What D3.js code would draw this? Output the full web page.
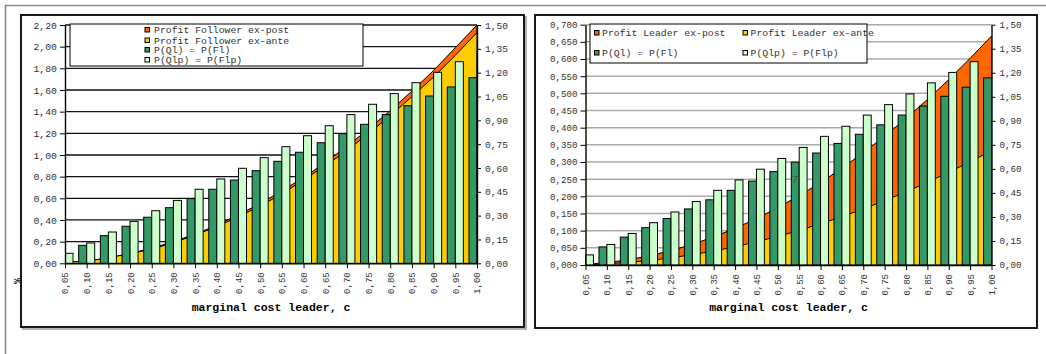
<!DOCTYPE html>
<html>
<head>
<meta charset="utf-8">
<script src="https://cdn.jsdelivr.net/npm/d3@7"></script>
<style>
  html, body { margin: 0; padding: 0; background: #fff; }
  svg { display: block; }
  text { font-family: "Liberation Mono", "Courier New", monospace; }
</style>
</head>
<body>
<svg id="chart" width="1046" height="354"></svg>
<script>
// marginal cost of the leader, c
const categories = ["0,05","0,10","0,15","0,20","0,25","0,30","0,35","0,40","0,45","0,50",
                    "0,55","0,60","0,65","0,70","0,75","0,80","0,85","0,90","0,95","1,00"];

// follower profits (left chart, left axis)
const followerExPost = [0.01,0.02,0.05,0.09,0.14,0.20,0.27,0.35,0.45,0.55,
                        0.67,0.79,0.93,1.08,1.24,1.41,1.59,1.78,1.99,2.20];
const followerExAnte = [0.01,0.02,0.05,0.09,0.13,0.19,0.26,0.34,0.43,0.53,
                        0.64,0.77,0.90,1.04,1.20,1.36,1.54,1.72,1.92,2.13];

// leader profits (right chart, left axis)
const leaderExPost = [0.002,0.007,0.015,0.027,0.042,0.060,0.082,0.107,0.135,0.167,
                      0.202,0.240,0.282,0.327,0.375,0.427,0.482,0.540,0.602,0.667];
const leaderExAnte = [0.001,0.003,0.008,0.013,0.021,0.030,0.041,0.053,0.068,0.083,
                      0.101,0.120,0.141,0.163,0.188,0.213,0.241,0.270,0.301,0.333];

// prices (both charts, right axis)
const priceQl  = [0.058,0.113,0.174,0.233,0.290,0.350,0.407,0.466,0.524,0.583,
                  0.642,0.699,0.759,0.816,0.875,0.936,0.992,1.053,1.110,1.168];
const priceQlp = [0.063,0.128,0.197,0.264,0.331,0.396,0.466,0.531,0.598,0.665,
                  0.734,0.803,0.866,0.936,1.001,1.068,1.137,1.202,1.269,1.335];

// axis ticks
const followerTicks = [0,0.2,0.4,0.6,0.8,1.0,1.2,1.4,1.6,1.8,2.0,2.2];
const leaderTicks   = [0,0.05,0.1,0.15,0.2,0.25,0.3,0.35,0.4,0.45,0.5,0.55,0.6,0.65,0.7];
const priceTicks    = [0,0.15,0.3,0.45,0.6,0.75,0.9,1.05,1.2,1.35,1.5];

const axisTitle = "marginal cost leader, c";
const followerLegend = ["Profit Follower ex-post","Profit Follower ex-ante","P(Ql) = P(Fl)","P(Qlp) = P(Flp)"];
const leaderLegend   = ["Profit Leader ex-post","Profit Leader ex-ante","P(Ql) = P(Fl)","P(Qlp) = P(Flp)"];

const COLORS = { post: "#ff6600", ante: "#ffcc00", ql: "#339966", qlp: "#ccffcc" };

const locale = d3.formatLocale({ decimal: ",", thousands: ".", grouping: [3], currency: ["", "€"] });
const fmt2 = locale.format(".2f");
const fmt3 = locale.format(".3f");

const svg = d3.select("#chart");

// page border
svg.append("path")
  .attr("d", "M5.5,354V5.5H1046")
  .attr("fill", "none").attr("stroke", "#8a8a8a").attr("stroke-width", 1.6);

function styleAxis(sel, fontSize) {
  sel.select(".domain").attr("stroke", "#000").attr("stroke-width", 1.4);
  sel.selectAll(".tick line").attr("stroke", "#000").attr("stroke-width", 1);
  sel.selectAll(".tick text")
    .attr("fill", "#333")
    .style("font-size", fontSize + "px")
    .style("font-family", '"Liberation Mono","Courier New",monospace');
}

function drawChart(c) {
  const g = svg.append("g");
  const [fx0, fy0, fx1, fy1] = c.frame;

  if (c.shadow) {
    g.append("rect")
      .attr("x", fx0 + 2).attr("y", fy0 + 2)
      .attr("width", fx1 - fx0).attr("height", fy1 - fy0)
      .attr("fill", "none").attr("stroke", "#9a9a9a").attr("stroke-width", 1.5);
  }
  g.append("rect")
    .attr("x", fx0).attr("y", fy0)
    .attr("width", fx1 - fx0).attr("height", fy1 - fy0)
    .attr("fill", "#fff").attr("stroke", "#000").attr("stroke-width", 1.8);

  const p = c.plot;
  const x = d3.scalePoint().domain(categories).range([p.l, p.r]);
  const yL = d3.scaleLinear().domain([0, c.leftMax]).range([p.b, p.t]);
  const yR = d3.scaleLinear().domain([0, 1.5]).range([p.b, p.t]);

  // horizontal gridlines
  g.append("g").selectAll("line").data(c.leftTicks).join("line")
    .attr("x1", p.l).attr("x2", p.r)
    .attr("y1", d => yL(d)).attr("y2", d => yL(d))
    .attr("stroke", c.gridColor).attr("stroke-width", c.gridWidth);

  const clipId = c.id + "-clip";
  g.append("clipPath").attr("id", clipId).append("rect")
    .attr("x", p.l).attr("y", p.t - 1)
    .attr("width", p.r - p.l).attr("height", p.b - p.t + 1);
  const body = g.append("g").attr("clip-path", `url(#${clipId})`);

  // profit areas, ex-post behind ex-ante
  const area = d3.area()
    .x((d, i) => x(categories[i]))
    .y0(yL(0))
    .y1(d => yL(d));
  c.areas.forEach(a => {
    body.append("path").datum(a.values)
      .attr("d", area)
      .attr("fill", a.color)
      .attr("stroke", "#000").attr("stroke-width", 1)
      .attr("stroke-linejoin", "round");
  });

  // price columns, clustered on each tick
  const w = x.step() * 0.37;
  body.append("g").selectAll("rect").data(priceQl).join("rect")
    .attr("x", (d, i) => x(categories[i]) - w)
    .attr("y", d => yR(d))
    .attr("width", w).attr("height", d => yR(0) - yR(d))
    .attr("fill", COLORS.ql).attr("stroke", "#000").attr("stroke-width", 1);
  body.append("g").selectAll("rect").data(priceQlp).join("rect")
    .attr("x", (d, i) => x(categories[i]))
    .attr("y", d => yR(d))
    .attr("width", w).attr("height", d => yR(0) - yR(d))
    .attr("fill", COLORS.qlp).attr("stroke", "#000").attr("stroke-width", 1);

  // axes
  g.append("g").attr("transform", `translate(${p.l},0)`)
    .call(d3.axisLeft(yL).tickValues(c.leftTicks).tickFormat(c.leftFmt)
      .tickSize(5).tickSizeOuter(0).tickPadding(c.leftPad))
    .call(styleAxis, c.leftFont);

  g.append("g").attr("transform", `translate(${p.r},0)`)
    .call(d3.axisRight(yR).tickValues(priceTicks).tickFormat(fmt2)
      .tickSize(4).tickSizeOuter(0).tickPadding(c.rightPad))
    .call(styleAxis, c.rightFont);

  const xa = g.append("g").attr("transform", `translate(0,${p.b})`)
    .call(d3.axisBottom(x).tickSize(5).tickSizeOuter(0))
    .call(styleAxis, c.xFont);
  xa.selectAll(".tick text")
    .attr("transform", "rotate(-90)")
    .attr("x", -9).attr("y", 0).attr("dy", "0.33em")
    .attr("text-anchor", "end");

  g.append("text")
    .attr("x", (p.l + p.r) / 2).attr("y", 311)
    .attr("text-anchor", "middle")
    .style("font-size", "11.5px").style("font-weight", "bold")
    .attr("fill", "#000")
    .text(axisTitle);

  // legend
  const L = c.legend;
  g.append("rect")
    .attr("x", L.box[0]).attr("y", L.box[1])
    .attr("width", L.box[2] - L.box[0]).attr("height", L.box[3] - L.box[1])
    .attr("fill", "#fff").attr("stroke", "#000").attr("stroke-width", 1);
  const swatches = [COLORS.post, COLORS.ante, COLORS.ql, COLORS.qlp];
  const items = g.append("g").selectAll("g").data(L.labels).join("g")
    .attr("transform", (d, i) => `translate(${L.pos[i][0]},${L.pos[i][1]})`);
  items.append("rect")
    .attr("x", 0).attr("y", -2.5).attr("width", 4.5).attr("height", 4.5)
    .attr("fill", (d, i) => swatches[i]).attr("stroke", "#000").attr("stroke-width", 1);
  items.append("text")
    .attr("x", L.textDx).attr("y", 3.4)
    .style("font-size", "9.8px").attr("fill", "#333")
    .text(d => d);
}

// left chart: follower profits
drawChart({
  id: "follower",
  frame: [21, 15, 524, 327],
  shadow: true,
  plot: { l: 65, r: 477, t: 25, b: 263.3 },
  leftMax: 2.2, leftTicks: followerTicks, leftFmt: fmt2,
  leftFont: 9.8, rightFont: 9.6, xFont: 9, leftPad: 3, rightPad: 4,
  gridColor: "#111", gridWidth: 1.3,
  areas: [
    { values: followerExPost, color: COLORS.post },
    { values: followerExAnte, color: COLORS.ante }
  ],
  legend: {
    box: [70, 24, 363, 66],
    labels: followerLegend,
    pos: [[145, 30], [145, 40.5], [145, 50], [145, 60]],
    textDx: 9
  }
});

// right chart: leader profits
drawChart({
  id: "leader",
  frame: [535, 15, 1037, 328],
  shadow: false,
  plot: { l: 585.5, r: 991.5, t: 24.7, b: 265 },
  leftMax: 0.7, leftTicks: leaderTicks, leftFmt: fmt3,
  leftFont: 9.2, rightFont: 9.2, xFont: 9, leftPad: 3, rightPad: 4,
  gridColor: "#aaaaaa", gridWidth: 1.5,
  areas: [
    { values: leaderExPost, color: COLORS.post },
    { values: leaderExAnte, color: COLORS.ante }
  ],
  legend: {
    box: [590, 24, 867, 63],
    labels: leaderLegend,
    pos: [[594.5, 33], [743, 33], [594.5, 53], [743, 53]],
    textDx: 7.5
  }
});

// stray marks on the sheet
svg.append("text")
  .attr("transform", "translate(17,281) rotate(-90)")
  .attr("text-anchor", "middle").attr("dy", "0.35em")
  .style("font-size", "10px").style("font-weight", "bold")
  .attr("fill", "#222")
  .text("%");
svg.append("text")
  .attr("x", 795).attr("y", 183)
  .attr("text-anchor", "middle")
  .style("font-size", "10px")
  .attr("fill", "#2b5a40")
  .text("7");
</script>
</body>
</html>
